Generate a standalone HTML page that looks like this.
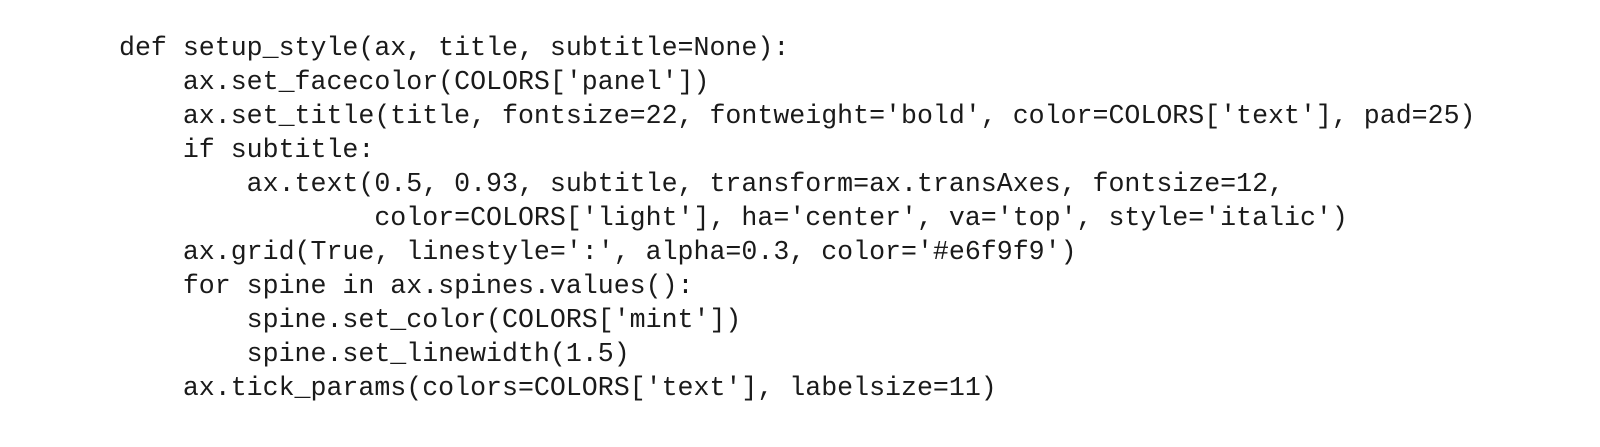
<!DOCTYPE html>
<html><head><meta charset="utf-8"><style>
html,body{margin:0;padding:0;background:#fff;width:1600px;height:447px;overflow:hidden}
pre{position:absolute;left:119px;top:31px;margin:0;font-family:"Liberation Mono",monospace;font-size:26.6px;line-height:34px;color:#1a1a1a}
</style></head><body>
<pre>def setup_style(ax, title, subtitle=None):
    ax.set_facecolor(COLORS['panel'])
    ax.set_title(title, fontsize=22, fontweight='bold', color=COLORS['text'], pad=25)
    if subtitle:
        ax.text(0.5, 0.93, subtitle, transform=ax.transAxes, fontsize=12,
                color=COLORS['light'], ha='center', va='top', style='italic')
    ax.grid(True, linestyle=':', alpha=0.3, color='#e6f9f9')
    for spine in ax.spines.values():
        spine.set_color(COLORS['mint'])
        spine.set_linewidth(1.5)
    ax.tick_params(colors=COLORS['text'], labelsize=11)</pre>
</body></html>
